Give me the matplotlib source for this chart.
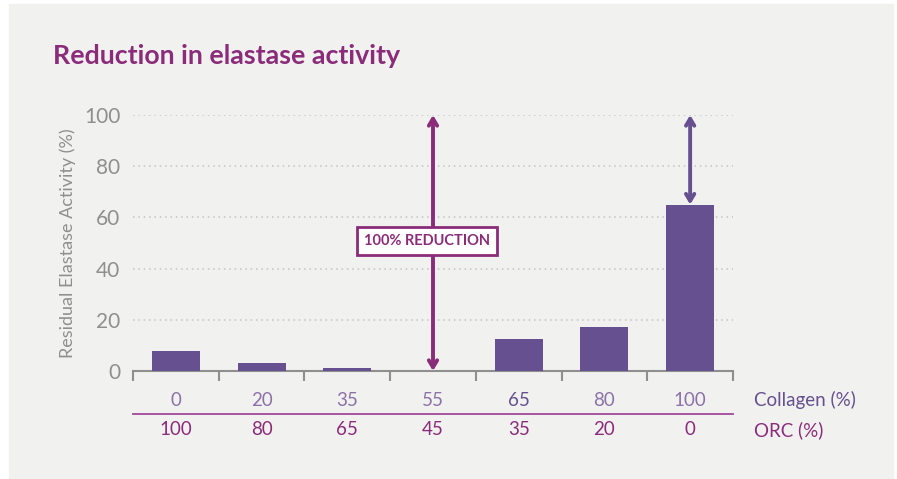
import matplotlib.pyplot as plt
from matplotlib.patches import Rectangle
import numpy as np

collagen = [0, 20, 35, 55, 65, 80, 100]
orc = [100, 80, 65, 45, 35, 20, 0]
activity = [8, 3, 1, 0, 12.5, 17, 65]

bar_col = '#66508f'
magenta = '#8b2c7a'
grey = '#8f8f8f'
col_lbl = '#8c72a8'

plt.rcParams['font.family'] = ['Lato', 'DejaVu Sans']

fig = plt.figure(figsize=(8.97, 4.79), dpi=100)
fig.patch.set_facecolor('white')
fig.patches.append(Rectangle((9/897, 0), 884/897, 475/479,
                             transform=fig.transFigure, color='#f1f1f0', zorder=-10))

ax = fig.add_axes([133/897, 1 - 371/479, 600/897, 256/479])
ax.set_facecolor('none')

x = np.arange(len(activity))
ax.bar(x, activity, width=0.56, color=bar_col, zorder=3)

ax.set_xlim(-0.5, 6.5)
ax.set_ylim(0, 100)
for v in [20, 40, 60, 80, 100]:
    ax.axhline(v, color='#c4c4c4', lw=1.1, ls=(0, (1, 2.5)), zorder=1)

for s in ['left', 'right', 'top']:
    ax.spines[s].set_visible(False)
ax.spines['bottom'].set_color(grey)
ax.spines['bottom'].set_linewidth(1.5)

ax.set_xticks(np.arange(-0.5, 7, 1))
ax.set_xticklabels([])
ax.tick_params(axis='x', length=7, width=1.5, color=grey, direction='out')
ax.set_yticks([0, 20, 40, 60, 80, 100])
ax.tick_params(axis='y', length=0, pad=9, labelsize=15, labelcolor=grey)
ax.set_ylabel('Residual Elastase Activity (%)', fontsize=13, color=grey,
              labelpad=6)

# two rows of composition labels under the axis
for i in range(len(x)):
    ax.text(x[i], -11.5, str(collagen[i]), ha='center', va='center', fontsize=13.5,
            color=bar_col if collagen[i] == 65 else col_lbl, clip_on=False)
    ax.text(x[i], -23, str(orc[i]), ha='center', va='center', fontsize=13.5,
            color=magenta, clip_on=False)
ax.text(6.75, -11.5, 'Collagen (%)', ha='left', va='center', fontsize=13.5,
        color=bar_col, clip_on=False)
ax.text(6.75, -23, 'ORC (%)', ha='left', va='center', fontsize=13.5,
        color=magenta, clip_on=False)
ax.plot([-0.5, 6.5], [-16.9, -16.9], color='#a2479a', lw=1.3, clip_on=False)

# arrows showing the reduction
ax.annotate('', xy=(3, 100), xytext=(3, 0),
            arrowprops=dict(arrowstyle='<->,head_length=0.5,head_width=0.3',
                            color=magenta, lw=2.8, shrinkA=0, shrinkB=0), zorder=4)
ax.text(2.93, 50.8, '100% REDUCTION', ha='center', va='center', fontsize=10.5,
        fontweight='bold', color=magenta, zorder=5,
        bbox=dict(boxstyle='square,pad=0.45', fc='white', ec=magenta, lw=2))
ax.annotate('', xy=(6, 100), xytext=(6, activity[6]),
            arrowprops=dict(arrowstyle='<->,head_length=0.5,head_width=0.3',
                            color=bar_col, lw=2.8, shrinkA=0, shrinkB=0), zorder=4)

fig.text(53/897, 1 - 56/479, 'Reduction in elastase activity', fontsize=19.3,
         fontweight='bold', color=magenta, ha='left', va='center')

fig.savefig('out.png', dpi=100)
